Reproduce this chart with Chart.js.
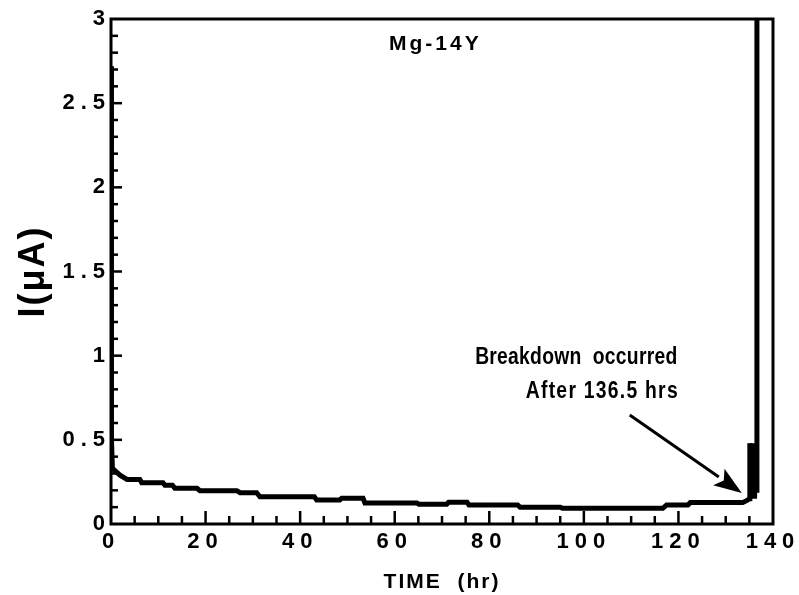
<!DOCTYPE html>
<html>
<head>
<meta charset="utf-8">
<script src="https://cdn.jsdelivr.net/npm/chart.js@4/dist/chart.umd.min.js"></script>
<style>
  html, body { margin: 0; padding: 0; background: #fff; }
  #wrap { width: 799px; height: 595px; }
</style>
</head>
<body>
<div id="wrap"><canvas id="chart" width="799" height="595"></canvas></div>
<script>
// Leakage current of Mg-14Y vs. time, hours
const timeHr = [0, 0.1, 0.3, 1.9, 3.4, 6.1, 6.5, 11, 11.4, 13, 13.5, 18.2, 18.8, 26.6, 27.3, 30.8,
  31.5, 43, 43.5, 48.4, 48.8, 53.3, 53.7, 64.7, 65.1, 71, 71.4, 75.3, 75.7, 86, 86.5, 95, 95.5,
  116.7, 117.5, 122, 122.5, 133.6, 134.5, 135, 135.1, 135.5, 135.7, 136.1, 136.3, 136.5, 136.6];
const currentUA = [2.72, 0.5, 0.33, 0.29, 0.265, 0.265, 0.245, 0.245, 0.23, 0.23, 0.212, 0.212, 0.198, 0.198, 0.186, 0.186,
  0.162, 0.162, 0.143, 0.143, 0.153, 0.153, 0.125, 0.125, 0.117, 0.117, 0.129, 0.129, 0.113, 0.113, 0.1, 0.1, 0.093,
  0.093, 0.113, 0.113, 0.127, 0.127, 0.14, 0.15, 0.48, 0.15, 0.48, 0.15, 0.48, 0.2, 3.2];

const xTicks = [0, 20, 40, 60, 80, 100, 120, 140];
const yTicks = [0, 0.5, 1, 1.5, 2, 2.5, 3];

const sampleName = 'Mg-14Y';
const noteLines = ['Breakdown  occurred', 'After 136.5 hrs'];
const breakdownHr = 136.5;

const FONT = '"Liberation Sans", Arial, Helvetica, sans-serif';

// frame + inward tick marks, title text and the arrow
const decor = {
  id: 'decor',
  beforeDraw(chart) {
    // axis titles are drawn in the grid layer, before the datasets
    chart.ctx.letterSpacing = '2px';
  },
  afterDatasetsDraw(chart) {
    // tick labels come after this hook (ticks.z = 1)
    chart.ctx.letterSpacing = '6px';
  },
  afterDraw(chart) {
    const {ctx, chartArea: a, scales: {x, y}} = chart;
    ctx.letterSpacing = '0px';
    ctx.save();
    ctx.strokeStyle = '#000';
    ctx.fillStyle = '#000';
    ctx.lineWidth = 3;
    ctx.strokeRect(a.left, a.top, a.right - a.left, a.bottom - a.top);

    // bottom ticks every 5 hr, long ones every 20
    for (let t = 5; t < 140; t += 5) {
      const px = x.getPixelForValue(t);
      const len = t % 20 === 0 ? 13 : 8;
      ctx.fillRect(px - 1.25, a.bottom - len, 2.5, len);
    }
    // left ticks every 0.1 uA, long ones every 0.5
    for (let k = 1; k < 30; k++) {
      const py = y.getPixelForValue(k / 10);
      const len = k % 5 === 0 ? 11 : 7;
      ctx.fillRect(a.left, py - 1.25, len, 2.5);
    }

    ctx.textBaseline = 'middle';
    ctx.font = 'bold 21px ' + FONT;
    ctx.textAlign = 'center';
    ctx.letterSpacing = '3px';
    ctx.fillText(sampleName, x.getPixelForValue(68.6), y.getPixelForValue(2.85));

    // condensed bold note, right aligned
    ctx.font = 'bold 23px ' + FONT;
    ctx.textAlign = 'right';
    ctx.letterSpacing = '0.3px';
    const drawNarrow = (txt, t, v) => {
      ctx.save();
      ctx.translate(x.getPixelForValue(t), y.getPixelForValue(v));
      ctx.scale(0.84, 1);
      ctx.fillText(txt, 0, 0);
      ctx.restore();
    };
    drawNarrow(noteLines[0], 119.8, 0.99);
    ctx.letterSpacing = '1.5px';
    drawNarrow(noteLines[1], 120.1, 0.785);

    // arrow pointing at the breakdown
    const x0 = x.getPixelForValue(109.7), y0 = y.getPixelForValue(0.648);
    const x1 = x.getPixelForValue(breakdownHr - 3.1), y1 = y.getPixelForValue(0.184);
    const ang = Math.atan2(y1 - y0, x1 - x0);
    const head = 28, half = 10;
    const bx = x1 - head * Math.cos(ang), by = y1 - head * Math.sin(ang);
    ctx.lineWidth = 3;
    ctx.beginPath();
    ctx.moveTo(x0, y0);
    ctx.lineTo(bx, by);
    ctx.stroke();
    ctx.beginPath();
    ctx.moveTo(x1, y1);
    ctx.lineTo(bx + half * Math.sin(ang), by - half * Math.cos(ang));
    ctx.lineTo(bx + 6 * Math.cos(ang), by + 6 * Math.sin(ang));
    ctx.lineTo(bx - half * Math.sin(ang), by + half * Math.cos(ang));
    ctx.closePath();
    ctx.fill();
    ctx.restore();
  }
};

const points = timeHr.map((t, i) => ({x: t, y: currentUA[i]}));

new Chart(document.getElementById('chart'), {
  type: 'line',
  data: {
    datasets: [{
      data: points,
      borderColor: '#000',
      borderWidth: 5,
      pointRadius: 0,
      tension: 0,
      borderJoinStyle: 'miter'
    }]
  },
  options: {
    responsive: false,
    animation: false,
    events: [],
    layout: {padding: {top: 19, right: 26, left: 0, bottom: 0}},
    plugins: {legend: {display: false}, tooltip: {enabled: false}},
    scales: {
      x: {
        type: 'linear',
        min: 0, max: 140,
        afterFit(s) { s.height = 71; },
        afterBuildTicks(s) { s.ticks = xTicks.map(v => ({value: v})); },
        grid: {display: false, drawTicks: false},
        border: {display: false},
        ticks: {
          z: 1, padding: 5, color: '#000', maxRotation: 0,
          callback: v => String(v),
          font: {family: FONT, size: 22, weight: 'bold'}
        },
        title: {
          display: true, text: 'TIME  (hr)', color: '#000',
          padding: {top: 3, bottom: 0},
          font: {family: FONT, size: 21, weight: 'bold'}
        }
      },
      y: {
        type: 'linear',
        min: 0, max: 3,
        afterFit(s) { s.width = 111; },
        afterBuildTicks(s) { s.ticks = yTicks.map(v => ({value: v})); },
        grid: {display: false, drawTicks: false},
        border: {display: false},
        ticks: {
          z: 1, padding: 0, color: '#000',
          callback: v => String(v),
          font: {family: FONT, size: 22, weight: 'bold'}
        },
        title: {
          display: true, text: 'I(μA)', color: '#000',
          padding: {top: 12, bottom: 0},
          font: {family: FONT, size: 36, weight: 'bold'}
        }
      }
    }
  },
  plugins: [decor]
});
</script>
</body>
</html>
